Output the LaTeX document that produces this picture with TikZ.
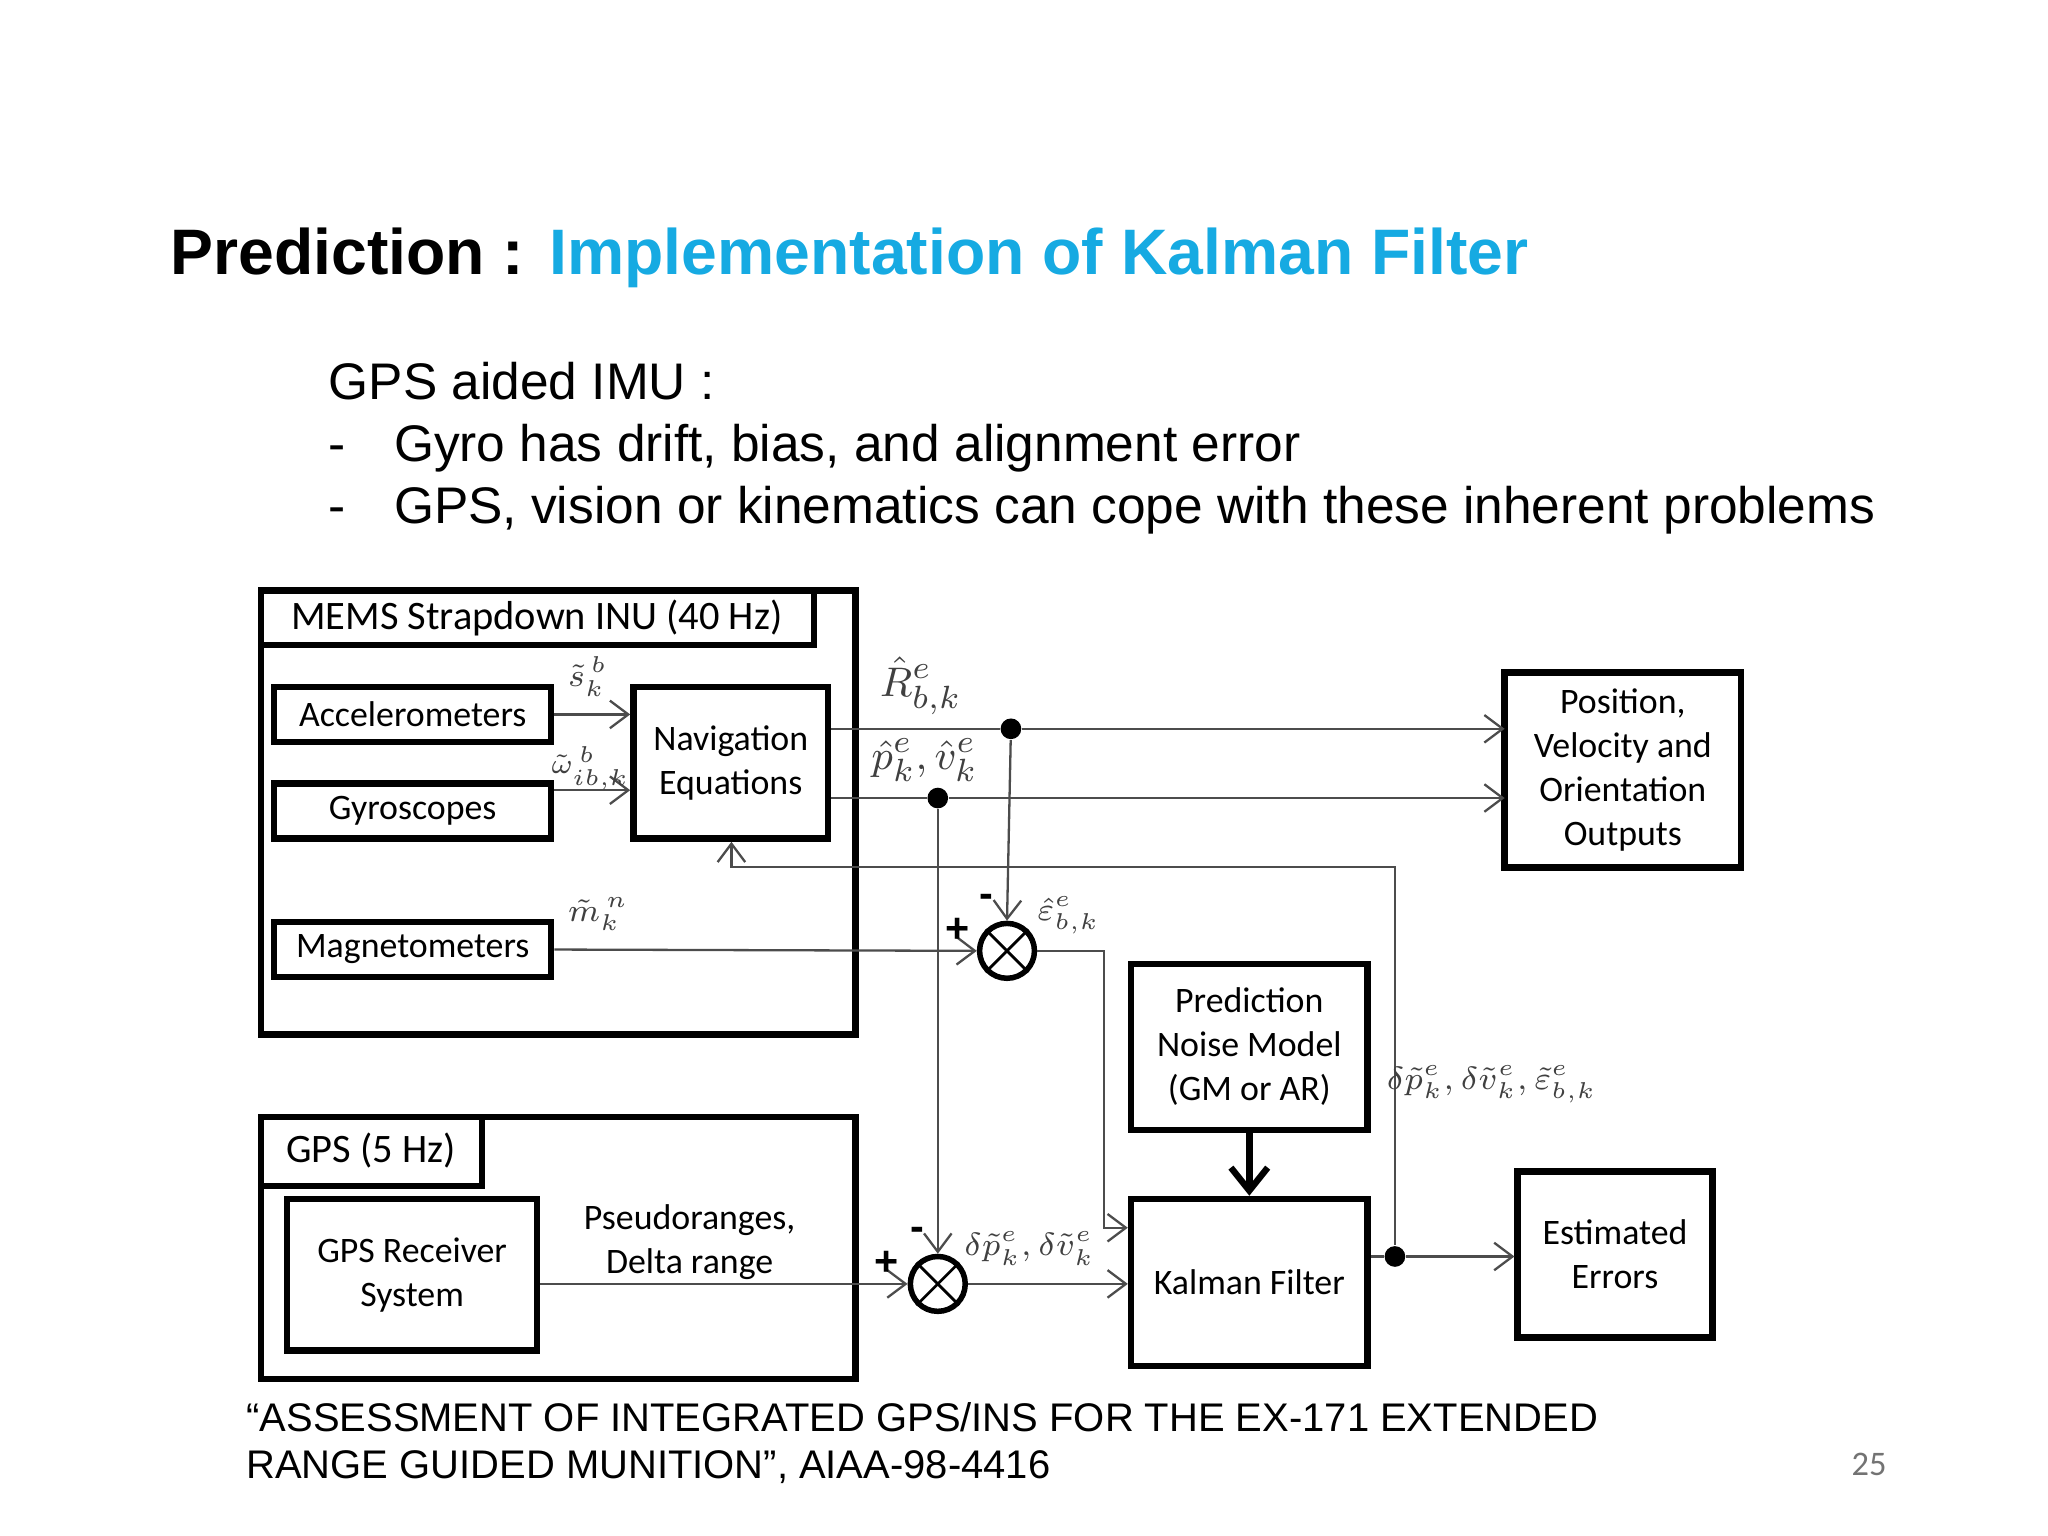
\documentclass[tikz,border=0pt]{standalone}
\usepackage{fontspec}
\setmainfont{Liberation Sans}
\newfontfamily\diag{Carlito}
\usetikzlibrary{arrows.meta}
\definecolor{ttl}{RGB}{22,170,226}
\begin{document}
\begin{tikzpicture}[x=0.01cm,y=-0.01cm,
 box/.style={draw,line width=1.4pt,inner sep=0pt},
 lbl/.style={font=\diag\fontsize{7.8}{9.6}\selectfont,align=center},
 con/.style={draw=black!70,line width=0.5pt},
 arr/.style={con,-{Straight Barb[length=4pt,width=6pt]}},
 dot/.style={circle,fill=black,inner sep=0pt,minimum size=4.5pt},
 sum/.style={circle,draw,line width=1.2pt,inner sep=0pt},
 ml/.style={font=\fontsize{7.5}{9}\selectfont,text=black!75,inner sep=0pt},
 tx/.style={anchor=base west,inner sep=0pt}]
\useasboundingbox (0,0) rectangle (1568,1176);
% texts
\node[tx,font=\bfseries\fontsize{14}{17}\selectfont] (t1) at (130,210) {Prediction :};
\node[tx,font=\bfseries\fontsize{14}{17}\selectfont,text=ttl] (t2) at (420,210) {Implementation of Kalman Filter};
\node[tx,font=\fontsize{11.2}{14}\selectfont] (b0) at (251,306) {GPS aided IMU :};
\node[tx,font=\fontsize{11.2}{14}\selectfont] (d1) at (251,353) {-};
\node[tx,font=\fontsize{11.2}{14}\selectfont] (b1) at (301,353) {Gyro has drift, bias, and alignment error};
\node[tx,font=\fontsize{11.2}{14}\selectfont] (d2) at (251,401) {-};
\node[tx,font=\fontsize{11.2}{14}\selectfont] (b2) at (301,401) {GPS, vision or kinematics can cope with these inherent problems};
\node[tx,font=\fontsize{8.7}{11}\selectfont] (c1) at (188,1096) {“ASSESSMENT OF INTEGRATED GPS/INS FOR THE EX-171 EXTENDED};
\node[tx,font=\fontsize{8.7}{11}\selectfont] (c2) at (188,1132) {RANGE GUIDED MUNITION”, AIAA-98-4416};
\node[anchor=base,font=\diag\fontsize{7.5}{10}\selectfont,text=black!55] (pg) at (1431,1130) {25};
% MEMS
\draw[box] (200,452) rectangle (655,792);
\draw[box] (200,452) rectangle (623,494);
\node[lbl,font=\diag\fontsize{8.8}{10}\selectfont] (mt) at (411,473) {MEMS Strapdown INU (40 Hz)};
\node[box,minimum width=2.12cm,minimum height=0.42cm,lbl] (acc) at (316,547) {Accelerometers};
\node[box,minimum width=2.12cm,minimum height=0.42cm,lbl] (gyr) at (316,621) {Gyroscopes};
\node[box,minimum width=2.12cm,minimum height=0.42cm,lbl] (mag) at (316,727) {Magnetometers};
\node[box,minimum width=1.49cm,minimum height=1.16cm,lbl] (nav) at (559.5,584) {Navigation\\Equations};
% GPS
\draw[box] (200,855) rectangle (655,1056);
\draw[box] (200,855) rectangle (369,908);
\node[lbl,font=\diag\fontsize{8.8}{10}\selectfont] (gt) at (284,881) {GPS (5 Hz)};
\node[box,minimum width=1.91cm,minimum height=1.16cm,lbl] (rcv) at (315.5,976) {GPS Receiver\\System};
\node[lbl] (pr) at (528,951) {Pseudoranges,\\Delta range};
% right boxes
\node[box,minimum width=1.81cm,minimum height=1.49cm,lbl] (pos) at (1242.5,589.5) {Position,\\Velocity and\\Orientation\\Outputs};
\node[box,minimum width=1.81cm,minimum height=1.27cm,lbl] (pnm) at (956.5,801.5) {Prediction\\Noise Model\\(GM or AR)};
\node[box,minimum width=1.81cm,minimum height=1.28cm,lbl] (kf) at (956.5,982) {Kalman Filter};
\node[box,minimum width=1.49cm,minimum height=1.27cm,lbl] (est) at (1236.5,960.5) {Estimated\\Errors};
% sums
\node[sum,minimum size=0.42cm] (s1) at (771,728) {};
\draw[line width=0.6pt] (s1.north west) -- (s1.south east) (s1.north east) -- (s1.south west);
\node[sum,minimum size=0.42cm] (s2) at (718,983) {};
\draw[line width=0.6pt] (s2.north west) -- (s2.south east) (s2.north east) -- (s2.south west);
% dots / coords
\node[dot] (d1) at (774,558) {};
\node[dot] (d2) at (718,611) {};
\node[dot] (d3) at (1068,962) {};
\coordinate (pa) at (1152,558);
\coordinate (pb) at (1152,611);
% connectors
\draw[arr] (acc.east) -- (nav.west |- acc.east);
\draw[arr] (gyr.east |- 0,605) -- (nav.west |- 0,605);
\draw[con] (nav.east |- d1) -- (d1);
\draw[arr] (d1) -- (pa);
\draw[con] (nav.east |- d2) -- (d2);
\draw[arr] (d2) -- (pb);
\draw[arr] (d1) -- (s1.north);
\draw[arr] (d2) -- (s2.north);
\draw[arr] (mag.east) -- (s1.west);
\draw[arr] (rcv.east |- s2) -- (s2.west);
\draw[arr] (s1.east) -| (845,940) -- (kf.west |- 0,940);
\draw[arr] (s2.east) -- (kf.west |- s2);
\draw[line width=1.4pt,-{Straight Barb[length=5pt,width=8pt]}] (pnm.south) -- (kf.north);
\draw[con] (kf.east |- d3) -- (d3);
\draw[arr] (d3) -- (est.west |- d3);
\draw[arr] (d3) |- (560,664) -- (nav.south -| 560,0);
% labels
\node[ml] (l1) at (450,518) {$\tilde{s}_k^{\,b}$};
\node[ml,font=\fontsize{6.5}{8}\selectfont] (l2) at (452,588) {$\tilde{\omega}_{ib,k}^{\,b}$};
\node[ml] (l3) at (458,700) {$\tilde{m}_k^{\,n}$};
\node[ml,font=\fontsize{9.5}{12}\selectfont] (l4) at (705,525) {$\hat{R}_{b,k}^{e}$};
\node[ml,font=\fontsize{9.5}{12}\selectfont] (l5) at (708,582) {$\hat{p}_k^{e},\hat{v}_k^{e}$};
\node[ml] (l6) at (818,701) {$\hat{\varepsilon}_{b,k}^{e}$};
\node[ml] (l7) at (788,956) {$\delta\tilde{p}_k^{e},\delta\tilde{v}_k^{e}$};
\node[ml,font=\fontsize{6.8}{8}\selectfont] (l8) at (1142,830) {$\delta\tilde{p}_k^{e},\delta\tilde{v}_k^{e},\tilde{\varepsilon}_{b,k}^{e}$};
\node[font=\bfseries\fontsize{9}{10}\selectfont,inner sep=0pt] (p1) at (733,712) {+};
\node[font=\bfseries\fontsize{9}{10}\selectfont,inner sep=0pt] (m1) at (755,690) {-};
\node[font=\bfseries\fontsize{9}{10}\selectfont,inner sep=0pt] (p2) at (679,967) {+};
\node[font=\bfseries\fontsize{9}{10}\selectfont,inner sep=0pt] (m2) at (702,945) {-};
\end{tikzpicture}
\end{document}
